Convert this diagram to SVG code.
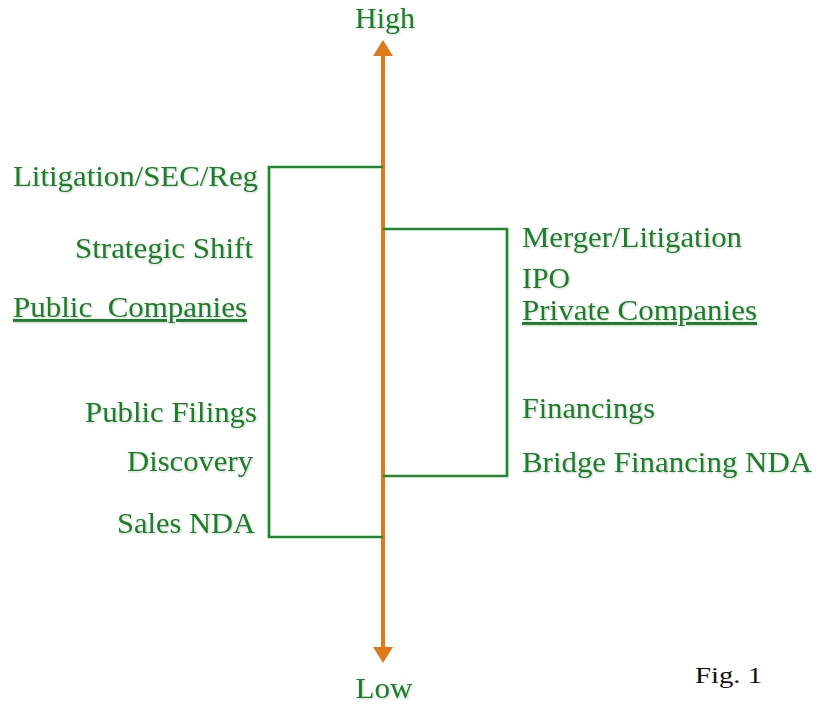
<svg xmlns="http://www.w3.org/2000/svg" width="816" height="704" viewBox="0 0 816 704">
<defs>
<style>
.t{font-family:"Liberation Serif","Times New Roman",serif;font-size:29px;fill:#1d7d2a;filter:url(#sh)}
.u{text-decoration:underline}
.br{fill:none;stroke:#1f8a2c;stroke-width:2.7}
.ax{stroke:#e0791c;stroke-width:4}
.ah{fill:#e0791c}
</style>
<filter id="sh" x="-5%" y="-20%" width="110%" height="140%">
<feDropShadow dx="1" dy="1" stdDeviation="0.8" flood-color="#000" flood-opacity="0.2"/>
</filter>
</defs>
<rect width="816" height="704" fill="#fff"/>
<g id="connectors">
<line class="ax" x1="383" y1="54" x2="383" y2="649"/>
<polygon class="ah" points="383,40 393,56 373,56"/>
<polygon class="ah" points="383,663 393,647 373,647"/>
<polyline class="br" points="383,167 269,167 269,537 383,537"/>
<polyline class="br" points="383,229 507,229 507,476 383,476"/>
</g>
<g id="axis-labels">
<text class="t" x="385" y="28" text-anchor="middle" textLength="60" lengthAdjust="spacingAndGlyphs">High</text>
<text class="t" x="384" y="698" text-anchor="middle" textLength="57" lengthAdjust="spacingAndGlyphs">Low</text>
</g>
<g id="public">
<text class="t" x="13" y="186" textLength="245" lengthAdjust="spacingAndGlyphs">Litigation/SEC/Reg</text>
<text class="t" x="75" y="258" textLength="178" lengthAdjust="spacingAndGlyphs">Strategic Shift</text>
<text class="t u" x="13" y="317" textLength="234" lengthAdjust="spacingAndGlyphs" xml:space="preserve" style="white-space:pre">Public  Companies</text>
<text class="t" x="85" y="422" textLength="172" lengthAdjust="spacingAndGlyphs">Public Filings</text>
<text class="t" x="127" y="471" textLength="126" lengthAdjust="spacingAndGlyphs">Discovery</text>
<text class="t" x="117" y="533" textLength="138" lengthAdjust="spacingAndGlyphs">Sales NDA</text>
</g>
<g id="private">
<text class="t" x="522" y="247" textLength="220" lengthAdjust="spacingAndGlyphs">Merger/Litigation</text>
<text class="t" x="522" y="288" textLength="48" lengthAdjust="spacingAndGlyphs">IPO</text>
<text class="t u" x="522" y="320" textLength="235" lengthAdjust="spacingAndGlyphs">Private Companies</text>
<text class="t" x="522" y="418" textLength="133" lengthAdjust="spacingAndGlyphs">Financings</text>
<text class="t" x="522" y="472" textLength="290" lengthAdjust="spacingAndGlyphs">Bridge Financing NDA</text>
</g>
<g id="caption">
<text x="695" y="683" font-family="Liberation Serif,'Times New Roman',serif" font-size="24" fill="#111" textLength="67" lengthAdjust="spacingAndGlyphs">Fig. 1</text>
</g>
</svg>
